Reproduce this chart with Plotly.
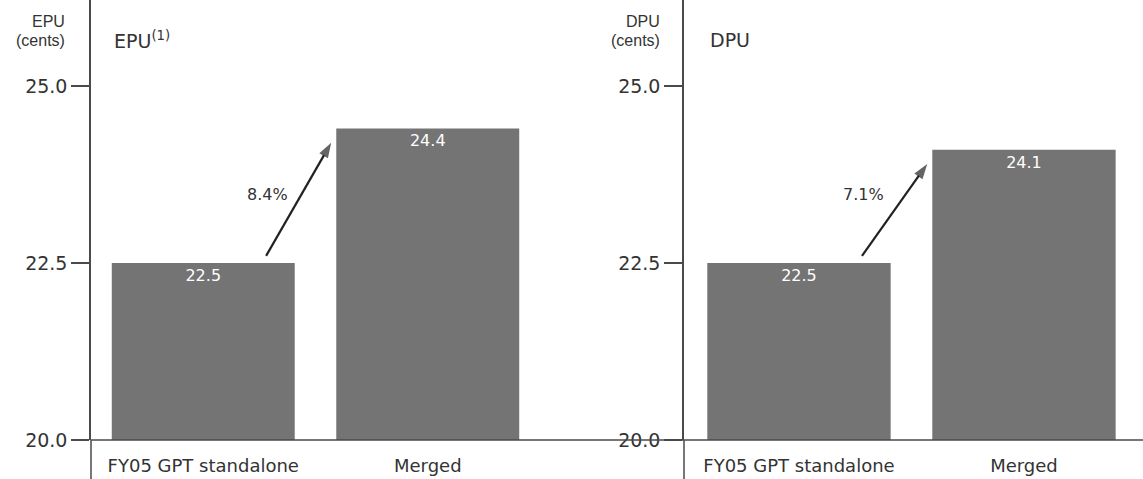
import plotly.graph_objects as go

# ---- data ----
categories = ["FY05 GPT standalone", "Merged"]
epu_values = [22.5, 24.4]
dpu_values = [22.5, 24.1]
panel_titles = ["EPU<sup>(1)</sup>", "DPU"]
axis_title_names = ["EPU", "DPU"]
axis_unit = "(cents)"
y_tick_vals = [20.0, 22.5, 25.0]
y_tick_text = ["20.0", "22.5", "25.0"]

FONT = "DejaVu Sans"
TXT = "#333333"
LINE = "#4a4a4a"
BAR = "#747474"

W, H = 1143, 479
ML, MB = 91, 39
PW = W - ML
PH = H - MB
right_start = (684 - ML) / PW
left_end = (562 - ML) / PW

fig = go.Figure()
panels = [(epu_values, "x", "y"), (dpu_values, "x2", "y2")]
for vals, xa, ya in panels:
    fig.add_trace(go.Bar(
        x=[0, 1], y=vals, width=0.815, xaxis=xa, yaxis=ya,
        marker=dict(color=BAR, line=dict(width=0)),
        text=[f"{v:.1f}" for v in vals], textposition="inside",
        insidetextanchor="end", textangle=0,
        textfont=dict(family=FONT, size=16, color="white"),
        cliponaxis=False, showlegend=False, hoverinfo="skip",
    ))
    # growth arrow from first bar towards the second
    v0, v1 = vals
    fig.add_trace(go.Scatter(
        x=[0.28, 0.57], y=[v0 + 0.1, v1 - 0.2], xaxis=xa, yaxis=ya,
        mode="lines+markers",
        line=dict(color="#222222", width=2.2),
        marker=dict(symbol=["circle", "arrow"], size=[0, 16], angleref="previous",
                    color="#222222", line=dict(width=0)),
        showlegend=False, hoverinfo="skip", cliponaxis=False,
    ))

yaxis_common = dict(
    range=[20, 20 + PH / 70.8], tickvals=y_tick_vals, ticktext=y_tick_text,
    ticks="outside", ticklen=18, tickwidth=1.5, tickcolor=LINE,
    showline=True, linecolor=LINE, linewidth=1.5, showgrid=False,
    zeroline=False, tickfont=dict(family=FONT, size=19, color=TXT),
    domain=[0, 1], fixedrange=True,
)
xaxis_common = dict(
    tickvals=[0, 1], ticktext=categories, ticks="", showline=False,
    showgrid=False, zeroline=False, ticklabelstandoff=13,
    tickfont=dict(family=FONT, size=18, color=TXT), fixedrange=True,
)

fig.update_layout(
    width=W, height=H, margin=dict(l=ML, r=0, t=0, b=MB),
    paper_bgcolor="white", plot_bgcolor="white",
    xaxis=dict(domain=[0, left_end], range=[-0.5, 1.598], anchor="y", **xaxis_common),
    xaxis2=dict(domain=[right_start, 1], range=[-0.511, 1.529], anchor="y2", **xaxis_common),
    yaxis=dict(anchor="x", **yaxis_common),
    yaxis2=dict(anchor="x2", **yaxis_common),
    showlegend=False,
)

shapes = []
# baseline spanning both panels
shapes.append(dict(type="line", xref="paper", yref="paper", x0=0, x1=1, y0=0, y1=0,
                   line=dict(color=LINE, width=1.5)))
# y-axis lines extended below baseline
for xp in [0, right_start]:
    shapes.append(dict(type="line", xref="paper", yref="paper", x0=xp, x1=xp,
                       y0=-MB / PH, y1=0, line=dict(color=LINE, width=1.5)))
fig.update_layout(shapes=shapes)

annotations = []
title_x = [(112 - ML) / PW, (708 - ML) / PW]
axis_title_x = [(67 - ML) / PW, (662 - ML) / PW]
for i, (vals, xa, ya) in enumerate(panels):
    annotations.append(dict(text=panel_titles[i], xref="paper", yref="paper",
                            x=title_x[i], y=(PH - 40) / PH, xanchor="left", yanchor="middle",
                            showarrow=False, font=dict(family=FONT, size=19, color=TXT)))
    annotations.append(dict(text=axis_title_names[i], xref="paper", yref="paper",
                            x=axis_title_x[i], y=(PH - 21) / PH, xanchor="right", yanchor="middle",
                            showarrow=False,
                            font=dict(family="Liberation Sans", size=16, color=TXT)))
    annotations.append(dict(text=axis_unit, xref="paper", yref="paper",
                            x=axis_title_x[i], y=(PH - 40) / PH, xanchor="right", yanchor="middle",
                            showarrow=False,
                            font=dict(family="Liberation Sans", size=16, color=TXT)))
    v0, v1 = vals
    pct = (v1 / v0 - 1) * 100
    annotations.append(dict(x=0.385, y=23.47, xref=xa, yref=ya, text=f"{pct:.1f}%",
                            xanchor="right", yanchor="middle", showarrow=False,
                            font=dict(family=FONT, size=16, color=TXT)))
fig.update_layout(annotations=annotations)

fig.write_html("out.html")
